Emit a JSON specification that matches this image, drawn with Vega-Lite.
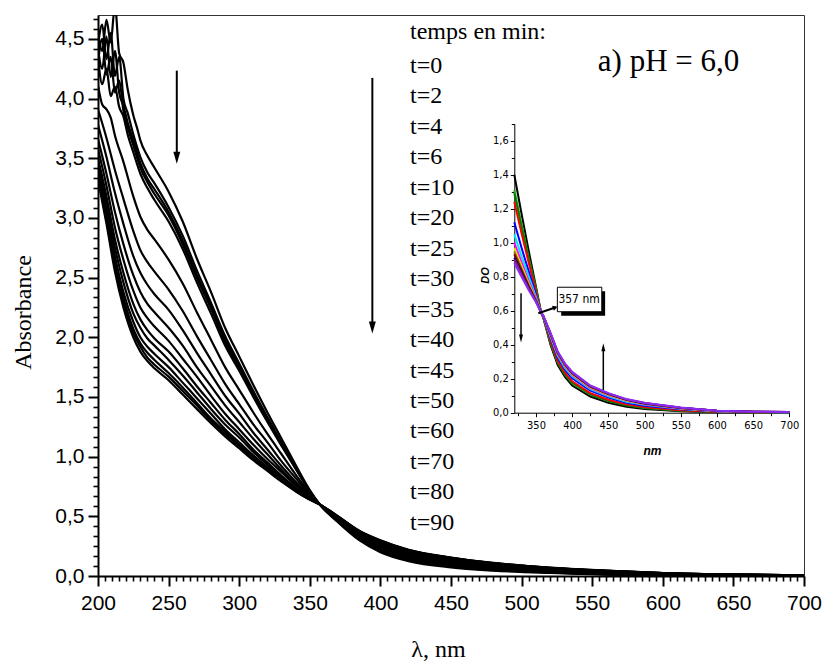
{
"$schema":"https://vega.github.io/schema/vega-lite/v6.json",
"width":706,"height":561,
"autosize":{"type":"none"},
"padding":{"left":98,"top":15,"right":20,"bottom":88},
"background":"white",
"config":{"view":{"stroke":"#333","strokeWidth":1},"font":"Liberation Sans"},
"datasets":{
"main":[
{"t":0,"x":200,"y":4.55},{"t":0,"x":203,"y":4.40},{"t":0,"x":206,"y":4.66},{"t":0,"x":209,"y":4.47},{"t":0,"x":212,"y":4.78},{"t":0,"x":215,"y":4.38},{"t":0,"x":218,"y":4.30},{"t":0,"x":221,"y":4.08},{"t":0,"x":225,"y":3.86},{"t":0,"x":228,"y":3.74},{"t":0,"x":230,"y":3.65},{"t":0,"x":235,"y":3.52},{"t":0,"x":240,"y":3.42},{"t":0,"x":250,"y":3.22},{"t":0,"x":260,"y":2.97},{"t":0,"x":270,"y":2.66},{"t":0,"x":280,"y":2.38},{"t":0,"x":290,"y":2.08},{"t":0,"x":300,"y":1.84},{"t":0,"x":310,"y":1.6},{"t":0,"x":320,"y":1.37},{"t":0,"x":330,"y":1.15},{"t":0,"x":340,"y":0.93},{"t":0,"x":350,"y":0.72},{"t":0,"x":357,"y":0.6},{"t":0,"x":370,"y":0.45},{"t":0,"x":385,"y":0.3},{"t":0,"x":400,"y":0.2},{"t":0,"x":420,"y":0.125},{"t":0,"x":450,"y":0.072},{"t":0,"x":480,"y":0.045},{"t":0,"x":520,"y":0.025},{"t":0,"x":560,"y":0.012},{"t":0,"x":600,"y":0.006},{"t":0,"x":650,"y":0.003},{"t":0,"x":700,"y":0.002},
{"t":2,"x":200,"y":4.45},{"t":2,"x":203,"y":4.62},{"t":2,"x":206,"y":4.33},{"t":2,"x":209,"y":4.55},{"t":2,"x":212,"y":4.19},{"t":2,"x":215,"y":4.35},{"t":2,"x":218,"y":4.0},{"t":2,"x":221,"y":3.88},{"t":2,"x":225,"y":3.7},{"t":2,"x":230,"y":3.51},{"t":2,"x":235,"y":3.38},{"t":2,"x":240,"y":3.29},{"t":2,"x":250,"y":3.09},{"t":2,"x":260,"y":2.85},{"t":2,"x":270,"y":2.56},{"t":2,"x":280,"y":2.29},{"t":2,"x":290,"y":2.01},{"t":2,"x":300,"y":1.78},{"t":2,"x":310,"y":1.55},{"t":2,"x":320,"y":1.33},{"t":2,"x":330,"y":1.12},{"t":2,"x":340,"y":0.91},{"t":2,"x":350,"y":0.71},{"t":2,"x":357,"y":0.6},{"t":2,"x":370,"y":0.455},{"t":2,"x":385,"y":0.308},{"t":2,"x":400,"y":0.207},{"t":2,"x":420,"y":0.131},{"t":2,"x":450,"y":0.079},{"t":2,"x":480,"y":0.05},{"t":2,"x":520,"y":0.029},{"t":2,"x":560,"y":0.015},{"t":2,"x":600,"y":0.008},{"t":2,"x":650,"y":0.004},{"t":2,"x":700,"y":0.002},
{"t":4,"x":200,"y":4.42},{"t":4,"x":203,"y":4.25},{"t":4,"x":206,"y":4.52},{"t":4,"x":209,"y":4.18},{"t":4,"x":212,"y":4.4},{"t":4,"x":215,"y":4.05},{"t":4,"x":218,"y":3.94},{"t":4,"x":221,"y":3.8},{"t":4,"x":225,"y":3.65},{"t":4,"x":230,"y":3.46},{"t":4,"x":235,"y":3.33},{"t":4,"x":240,"y":3.24},{"t":4,"x":250,"y":3.05},{"t":4,"x":260,"y":2.81},{"t":4,"x":270,"y":2.52},{"t":4,"x":280,"y":2.26},{"t":4,"x":290,"y":1.98},{"t":4,"x":300,"y":1.76},{"t":4,"x":310,"y":1.53},{"t":4,"x":320,"y":1.32},{"t":4,"x":330,"y":1.11},{"t":4,"x":340,"y":0.91},{"t":4,"x":350,"y":0.71},{"t":4,"x":357,"y":0.6},{"t":4,"x":370,"y":0.458},{"t":4,"x":385,"y":0.313},{"t":4,"x":400,"y":0.212},{"t":4,"x":420,"y":0.136},{"t":4,"x":450,"y":0.083},{"t":4,"x":480,"y":0.052},{"t":4,"x":520,"y":0.03},{"t":4,"x":560,"y":0.016},{"t":4,"x":600,"y":0.008},{"t":4,"x":650,"y":0.004},{"t":4,"x":700,"y":0.002},
{"t":6,"x":200,"y":4.3},{"t":6,"x":203,"y":4.5},{"t":6,"x":206,"y":4.2},{"t":6,"x":209,"y":4.35},{"t":6,"x":212,"y":4.05},{"t":6,"x":215,"y":4.15},{"t":6,"x":218,"y":3.9},{"t":6,"x":221,"y":3.76},{"t":6,"x":225,"y":3.61},{"t":6,"x":230,"y":3.42},{"t":6,"x":235,"y":3.3},{"t":6,"x":240,"y":3.2},{"t":6,"x":250,"y":3.02},{"t":6,"x":260,"y":2.78},{"t":6,"x":270,"y":2.5},{"t":6,"x":280,"y":2.24},{"t":6,"x":290,"y":1.96},{"t":6,"x":300,"y":1.74},{"t":6,"x":310,"y":1.52},{"t":6,"x":320,"y":1.31},{"t":6,"x":330,"y":1.1},{"t":6,"x":340,"y":0.9},{"t":6,"x":350,"y":0.71},{"t":6,"x":357,"y":0.6},{"t":6,"x":370,"y":0.461},{"t":6,"x":385,"y":0.318},{"t":6,"x":400,"y":0.217},{"t":6,"x":420,"y":0.141},{"t":6,"x":450,"y":0.087},{"t":6,"x":480,"y":0.055},{"t":6,"x":520,"y":0.031},{"t":6,"x":560,"y":0.016},{"t":6,"x":600,"y":0.008},{"t":6,"x":650,"y":0.004},{"t":6,"x":700,"y":0.003},
{"t":10,"x":200,"y":4.35},{"t":10,"x":203,"y":4.12},{"t":10,"x":206,"y":4.25},{"t":10,"x":209,"y":4.02},{"t":10,"x":212,"y":4.1},{"t":10,"x":215,"y":3.93},{"t":10,"x":218,"y":3.85},{"t":10,"x":221,"y":3.7},{"t":10,"x":225,"y":3.55},{"t":10,"x":230,"y":3.37},{"t":10,"x":235,"y":3.25},{"t":10,"x":240,"y":3.15},{"t":10,"x":250,"y":2.97},{"t":10,"x":260,"y":2.74},{"t":10,"x":270,"y":2.46},{"t":10,"x":280,"y":2.2},{"t":10,"x":290,"y":1.93},{"t":10,"x":300,"y":1.72},{"t":10,"x":310,"y":1.5},{"t":10,"x":320,"y":1.29},{"t":10,"x":330,"y":1.09},{"t":10,"x":340,"y":0.9},{"t":10,"x":350,"y":0.71},{"t":10,"x":357,"y":0.6},{"t":10,"x":370,"y":0.464},{"t":10,"x":385,"y":0.323},{"t":10,"x":400,"y":0.222},{"t":10,"x":420,"y":0.146},{"t":10,"x":450,"y":0.091},{"t":10,"x":480,"y":0.058},{"t":10,"x":520,"y":0.033},{"t":10,"x":560,"y":0.018},{"t":10,"x":600,"y":0.009},{"t":10,"x":650,"y":0.004},{"t":10,"x":700,"y":0.003},
{"t":20,"x":200,"y":4.11},{"t":20,"x":203,"y":3.95},{"t":20,"x":206,"y":3.91},{"t":20,"x":209,"y":3.84},{"t":20,"x":212,"y":3.69},{"t":20,"x":218,"y":3.47},{"t":20,"x":225,"y":3.18},{"t":20,"x":230,"y":3.01},{"t":20,"x":235,"y":2.9},{"t":20,"x":240,"y":2.82},{"t":20,"x":250,"y":2.65},{"t":20,"x":260,"y":2.45},{"t":20,"x":270,"y":2.21},{"t":20,"x":280,"y":1.98},{"t":20,"x":290,"y":1.75},{"t":20,"x":300,"y":1.56},{"t":20,"x":310,"y":1.37},{"t":20,"x":320,"y":1.19},{"t":20,"x":330,"y":1.02},{"t":20,"x":340,"y":0.85},{"t":20,"x":350,"y":0.69},{"t":20,"x":357,"y":0.6},{"t":20,"x":370,"y":0.472},{"t":20,"x":385,"y":0.334},{"t":20,"x":400,"y":0.237},{"t":20,"x":420,"y":0.16},{"t":20,"x":450,"y":0.103},{"t":20,"x":480,"y":0.068},{"t":20,"x":520,"y":0.041},{"t":20,"x":560,"y":0.024},{"t":20,"x":600,"y":0.013},{"t":20,"x":650,"y":0.006},{"t":20,"x":700,"y":0.003},
{"t":25,"x":200,"y":3.91},{"t":25,"x":206,"y":3.67},{"t":25,"x":212,"y":3.4},{"t":25,"x":218,"y":3.16},{"t":25,"x":225,"y":2.89},{"t":25,"x":230,"y":2.73},{"t":25,"x":235,"y":2.63},{"t":25,"x":240,"y":2.55},{"t":25,"x":250,"y":2.4},{"t":25,"x":260,"y":2.22},{"t":25,"x":270,"y":2.01},{"t":25,"x":280,"y":1.81},{"t":25,"x":290,"y":1.61},{"t":25,"x":300,"y":1.44},{"t":25,"x":310,"y":1.27},{"t":25,"x":320,"y":1.12},{"t":25,"x":330,"y":0.96},{"t":25,"x":340,"y":0.82},{"t":25,"x":350,"y":0.68},{"t":25,"x":357,"y":0.6},{"t":25,"x":370,"y":0.478},{"t":25,"x":385,"y":0.343},{"t":25,"x":400,"y":0.25},{"t":25,"x":420,"y":0.173},{"t":25,"x":450,"y":0.114},{"t":25,"x":480,"y":0.079},{"t":25,"x":520,"y":0.048},{"t":25,"x":560,"y":0.029},{"t":25,"x":600,"y":0.016},{"t":25,"x":650,"y":0.008},{"t":25,"x":700,"y":0.004},
{"t":30,"x":200,"y":3.78},{"t":30,"x":206,"y":3.51},{"t":30,"x":212,"y":3.21},{"t":30,"x":218,"y":2.95},{"t":30,"x":225,"y":2.68},{"t":30,"x":230,"y":2.54},{"t":30,"x":235,"y":2.44},{"t":30,"x":240,"y":2.36},{"t":30,"x":250,"y":2.23},{"t":30,"x":260,"y":2.06},{"t":30,"x":270,"y":1.87},{"t":30,"x":280,"y":1.69},{"t":30,"x":290,"y":1.51},{"t":30,"x":300,"y":1.36},{"t":30,"x":310,"y":1.2},{"t":30,"x":320,"y":1.06},{"t":30,"x":330,"y":0.92},{"t":30,"x":340,"y":0.79},{"t":30,"x":350,"y":0.67},{"t":30,"x":357,"y":0.6},{"t":30,"x":370,"y":0.482},{"t":30,"x":385,"y":0.35},{"t":30,"x":400,"y":0.259},{"t":30,"x":420,"y":0.183},{"t":30,"x":450,"y":0.124},{"t":30,"x":480,"y":0.086},{"t":30,"x":520,"y":0.053},{"t":30,"x":560,"y":0.033},{"t":30,"x":600,"y":0.018},{"t":30,"x":650,"y":0.009},{"t":30,"x":700,"y":0.005},
{"t":35,"x":200,"y":3.66},{"t":35,"x":206,"y":3.37},{"t":35,"x":212,"y":3.05},{"t":35,"x":218,"y":2.78},{"t":35,"x":225,"y":2.52},{"t":35,"x":230,"y":2.38},{"t":35,"x":235,"y":2.28},{"t":35,"x":240,"y":2.21},{"t":35,"x":250,"y":2.08},{"t":35,"x":260,"y":1.93},{"t":35,"x":270,"y":1.75},{"t":35,"x":280,"y":1.59},{"t":35,"x":290,"y":1.43},{"t":35,"x":300,"y":1.29},{"t":35,"x":310,"y":1.15},{"t":35,"x":320,"y":1.02},{"t":35,"x":330,"y":0.89},{"t":35,"x":340,"y":0.77},{"t":35,"x":350,"y":0.66},{"t":35,"x":357,"y":0.6},{"t":35,"x":370,"y":0.486},{"t":35,"x":385,"y":0.357},{"t":35,"x":400,"y":0.268},{"t":35,"x":420,"y":0.192},{"t":35,"x":450,"y":0.131},{"t":35,"x":480,"y":0.092},{"t":35,"x":520,"y":0.057},{"t":35,"x":560,"y":0.036},{"t":35,"x":600,"y":0.02},{"t":35,"x":650,"y":0.009},{"t":35,"x":700,"y":0.005},
{"t":40,"x":200,"y":3.58},{"t":40,"x":206,"y":3.27},{"t":40,"x":212,"y":2.92},{"t":40,"x":218,"y":2.65},{"t":40,"x":225,"y":2.39},{"t":40,"x":230,"y":2.25},{"t":40,"x":235,"y":2.16},{"t":40,"x":240,"y":2.09},{"t":40,"x":250,"y":1.97},{"t":40,"x":260,"y":1.82},{"t":40,"x":270,"y":1.67},{"t":40,"x":280,"y":1.51},{"t":40,"x":290,"y":1.36},{"t":40,"x":300,"y":1.23},{"t":40,"x":310,"y":1.1},{"t":40,"x":320,"y":0.98},{"t":40,"x":330,"y":0.87},{"t":40,"x":340,"y":0.76},{"t":40,"x":350,"y":0.66},{"t":40,"x":357,"y":0.6},{"t":40,"x":370,"y":0.489},{"t":40,"x":385,"y":0.362},{"t":40,"x":400,"y":0.275},{"t":40,"x":420,"y":0.199},{"t":40,"x":450,"y":0.137},{"t":40,"x":480,"y":0.096},{"t":40,"x":520,"y":0.061},{"t":40,"x":560,"y":0.038},{"t":40,"x":600,"y":0.021},{"t":40,"x":650,"y":0.01},{"t":40,"x":700,"y":0.005},
{"t":45,"x":200,"y":3.5},{"t":45,"x":206,"y":3.18},{"t":45,"x":212,"y":2.82},{"t":45,"x":218,"y":2.54},{"t":45,"x":225,"y":2.28},{"t":45,"x":230,"y":2.15},{"t":45,"x":235,"y":2.06},{"t":45,"x":240,"y":1.99},{"t":45,"x":250,"y":1.88},{"t":45,"x":260,"y":1.74},{"t":45,"x":270,"y":1.59},{"t":45,"x":280,"y":1.45},{"t":45,"x":290,"y":1.31},{"t":45,"x":300,"y":1.19},{"t":45,"x":310,"y":1.06},{"t":45,"x":320,"y":0.95},{"t":45,"x":330,"y":0.84},{"t":45,"x":340,"y":0.74},{"t":45,"x":350,"y":0.65},{"t":45,"x":357,"y":0.6},{"t":45,"x":370,"y":0.491},{"t":45,"x":385,"y":0.367},{"t":45,"x":400,"y":0.281},{"t":45,"x":420,"y":0.205},{"t":45,"x":450,"y":0.142},{"t":45,"x":480,"y":0.1},{"t":45,"x":520,"y":0.063},{"t":45,"x":560,"y":0.04},{"t":45,"x":600,"y":0.022},{"t":45,"x":650,"y":0.011},{"t":45,"x":700,"y":0.005},
{"t":50,"x":200,"y":3.46},{"t":50,"x":206,"y":3.12},{"t":50,"x":212,"y":2.75},{"t":50,"x":218,"y":2.46},{"t":50,"x":225,"y":2.2},{"t":50,"x":230,"y":2.08},{"t":50,"x":235,"y":1.99},{"t":50,"x":240,"y":1.93},{"t":50,"x":250,"y":1.81},{"t":50,"x":260,"y":1.68},{"t":50,"x":270,"y":1.54},{"t":50,"x":280,"y":1.4},{"t":50,"x":290,"y":1.27},{"t":50,"x":300,"y":1.16},{"t":50,"x":310,"y":1.04},{"t":50,"x":320,"y":0.93},{"t":50,"x":330,"y":0.83},{"t":50,"x":340,"y":0.73},{"t":50,"x":350,"y":0.65},{"t":50,"x":357,"y":0.6},{"t":50,"x":370,"y":0.493},{"t":50,"x":385,"y":0.37},{"t":50,"x":400,"y":0.285},{"t":50,"x":420,"y":0.209},{"t":50,"x":450,"y":0.146},{"t":50,"x":480,"y":0.103},{"t":50,"x":520,"y":0.065},{"t":50,"x":560,"y":0.041},{"t":50,"x":600,"y":0.023},{"t":50,"x":650,"y":0.011},{"t":50,"x":700,"y":0.006},
{"t":60,"x":200,"y":3.41},{"t":60,"x":206,"y":3.06},{"t":60,"x":212,"y":2.68},{"t":60,"x":218,"y":2.38},{"t":60,"x":225,"y":2.13},{"t":60,"x":230,"y":2.0},{"t":60,"x":235,"y":1.92},{"t":60,"x":240,"y":1.86},{"t":60,"x":250,"y":1.75},{"t":60,"x":260,"y":1.62},{"t":60,"x":270,"y":1.49},{"t":60,"x":280,"y":1.36},{"t":60,"x":290,"y":1.23},{"t":60,"x":300,"y":1.12},{"t":60,"x":310,"y":1.01},{"t":60,"x":320,"y":0.91},{"t":60,"x":330,"y":0.82},{"t":60,"x":340,"y":0.73},{"t":60,"x":350,"y":0.65},{"t":60,"x":357,"y":0.6},{"t":60,"x":370,"y":0.495},{"t":60,"x":385,"y":0.373},{"t":60,"x":400,"y":0.29},{"t":60,"x":420,"y":0.213},{"t":60,"x":450,"y":0.149},{"t":60,"x":480,"y":0.105},{"t":60,"x":520,"y":0.067},{"t":60,"x":560,"y":0.043},{"t":60,"x":600,"y":0.024},{"t":60,"x":650,"y":0.011},{"t":60,"x":700,"y":0.006},
{"t":70,"x":200,"y":3.37},{"t":70,"x":206,"y":3.01},{"t":70,"x":212,"y":2.62},{"t":70,"x":218,"y":2.33},{"t":70,"x":225,"y":2.07},{"t":70,"x":230,"y":1.95},{"t":70,"x":235,"y":1.87},{"t":70,"x":240,"y":1.81},{"t":70,"x":250,"y":1.7},{"t":70,"x":260,"y":1.58},{"t":70,"x":270,"y":1.45},{"t":70,"x":280,"y":1.32},{"t":70,"x":290,"y":1.21},{"t":70,"x":300,"y":1.1},{"t":70,"x":310,"y":1.0},{"t":70,"x":320,"y":0.9},{"t":70,"x":330,"y":0.8},{"t":70,"x":340,"y":0.72},{"t":70,"x":350,"y":0.64},{"t":70,"x":357,"y":0.6},{"t":70,"x":370,"y":0.497},{"t":70,"x":385,"y":0.376},{"t":70,"x":400,"y":0.294},{"t":70,"x":420,"y":0.216},{"t":70,"x":450,"y":0.152},{"t":70,"x":480,"y":0.107},{"t":70,"x":520,"y":0.068},{"t":70,"x":560,"y":0.044},{"t":70,"x":600,"y":0.024},{"t":70,"x":650,"y":0.012},{"t":70,"x":700,"y":0.006},
{"t":80,"x":200,"y":3.35},{"t":80,"x":206,"y":2.98},{"t":80,"x":212,"y":2.59},{"t":80,"x":218,"y":2.29},{"t":80,"x":225,"y":2.04},{"t":80,"x":230,"y":1.92},{"t":80,"x":235,"y":1.83},{"t":80,"x":240,"y":1.77},{"t":80,"x":250,"y":1.67},{"t":80,"x":260,"y":1.55},{"t":80,"x":270,"y":1.43},{"t":80,"x":280,"y":1.3},{"t":80,"x":290,"y":1.19},{"t":80,"x":300,"y":1.09},{"t":80,"x":310,"y":0.98},{"t":80,"x":320,"y":0.89},{"t":80,"x":330,"y":0.8},{"t":80,"x":340,"y":0.71},{"t":80,"x":350,"y":0.64},{"t":80,"x":357,"y":0.6},{"t":80,"x":370,"y":0.499},{"t":80,"x":385,"y":0.378},{"t":80,"x":400,"y":0.297},{"t":80,"x":420,"y":0.218},{"t":80,"x":450,"y":0.153},{"t":80,"x":480,"y":0.109},{"t":80,"x":520,"y":0.069},{"t":80,"x":560,"y":0.044},{"t":80,"x":600,"y":0.025},{"t":80,"x":650,"y":0.012},{"t":80,"x":700,"y":0.006},
{"t":90,"x":200,"y":3.32},{"t":90,"x":206,"y":2.95},{"t":90,"x":212,"y":2.55},{"t":90,"x":218,"y":2.25},{"t":90,"x":225,"y":2.0},{"t":90,"x":230,"y":1.88},{"t":90,"x":235,"y":1.8},{"t":90,"x":240,"y":1.74},{"t":90,"x":250,"y":1.64},{"t":90,"x":260,"y":1.52},{"t":90,"x":270,"y":1.4},{"t":90,"x":280,"y":1.28},{"t":90,"x":290,"y":1.17},{"t":90,"x":300,"y":1.07},{"t":90,"x":310,"y":0.97},{"t":90,"x":320,"y":0.88},{"t":90,"x":330,"y":0.79},{"t":90,"x":340,"y":0.71},{"t":90,"x":350,"y":0.64},{"t":90,"x":357,"y":0.6},{"t":90,"x":370,"y":0.5},{"t":90,"x":385,"y":0.38},{"t":90,"x":400,"y":0.3},{"t":90,"x":420,"y":0.22},{"t":90,"x":450,"y":0.155},{"t":90,"x":480,"y":0.11},{"t":90,"x":520,"y":0.07},{"t":90,"x":560,"y":0.045},{"t":90,"x":600,"y":0.025},{"t":90,"x":650,"y":0.012},{"t":90,"x":700,"y":0.006}
],
"inset":[
{"c":"black","x":320,"y":1.4},{"c":"black","x":330,"y":1.17},{"c":"black","x":340,"y":0.95},{"c":"black","x":350,"y":0.74},{"c":"black","x":357,"y":0.59},{"c":"black","x":360,"y":0.56},{"c":"black","x":370,"y":0.4},{"c":"black","x":380,"y":0.28},{"c":"black","x":390,"y":0.21},{"c":"black","x":400,"y":0.16},{"c":"black","x":425,"y":0.095},{"c":"black","x":450,"y":0.058},{"c":"black","x":475,"y":0.035},{"c":"black","x":500,"y":0.022},{"c":"black","x":550,"y":0.008},{"c":"black","x":600,"y":0.003},{"c":"black","x":650,"y":0.002},{"c":"black","x":700,"y":0.002},
{"c":"green","x":320,"y":1.31},{"c":"green","x":330,"y":1.11},{"c":"green","x":340,"y":0.91},{"c":"green","x":350,"y":0.73},{"c":"green","x":357,"y":0.59},{"c":"green","x":360,"y":0.562},{"c":"green","x":370,"y":0.412},{"c":"green","x":380,"y":0.294},{"c":"green","x":390,"y":0.224},{"c":"green","x":400,"y":0.174},{"c":"green","x":425,"y":0.106},{"c":"green","x":450,"y":0.068},{"c":"green","x":475,"y":0.043},{"c":"green","x":500,"y":0.028},{"c":"green","x":550,"y":0.012},{"c":"green","x":600,"y":0.005},{"c":"green","x":650,"y":0.003},{"c":"green","x":700,"y":0.002},
{"c":"darkgreen","x":320,"y":1.29},{"c":"darkgreen","x":330,"y":1.09},{"c":"darkgreen","x":340,"y":0.9},{"c":"darkgreen","x":350,"y":0.72},{"c":"darkgreen","x":357,"y":0.59},{"c":"darkgreen","x":360,"y":0.562},{"c":"darkgreen","x":370,"y":0.415},{"c":"darkgreen","x":380,"y":0.297},{"c":"darkgreen","x":390,"y":0.227},{"c":"darkgreen","x":400,"y":0.177},{"c":"darkgreen","x":425,"y":0.109},{"c":"darkgreen","x":450,"y":0.07},{"c":"darkgreen","x":475,"y":0.044},{"c":"darkgreen","x":500,"y":0.03},{"c":"darkgreen","x":550,"y":0.013},{"c":"darkgreen","x":600,"y":0.005},{"c":"darkgreen","x":650,"y":0.003},{"c":"darkgreen","x":700,"y":0.002},
{"c":"red","x":320,"y":1.24},{"c":"red","x":330,"y":1.055},{"c":"red","x":340,"y":0.88},{"c":"red","x":350,"y":0.71},{"c":"red","x":357,"y":0.59},{"c":"red","x":360,"y":0.563},{"c":"red","x":370,"y":0.422},{"c":"red","x":380,"y":0.305},{"c":"red","x":390,"y":0.235},{"c":"red","x":400,"y":0.185},{"c":"red","x":425,"y":0.115},{"c":"red","x":450,"y":0.076},{"c":"red","x":475,"y":0.049},{"c":"red","x":500,"y":0.033},{"c":"red","x":550,"y":0.015},{"c":"red","x":600,"y":0.006},{"c":"red","x":650,"y":0.003},{"c":"red","x":700,"y":0.003},
{"c":"blue","x":320,"y":1.12},{"c":"blue","x":330,"y":0.97},{"c":"blue","x":340,"y":0.83},{"c":"blue","x":350,"y":0.69},{"c":"blue","x":357,"y":0.59},{"c":"blue","x":360,"y":0.565},{"c":"blue","x":370,"y":0.438},{"c":"blue","x":380,"y":0.323},{"c":"blue","x":390,"y":0.253},{"c":"blue","x":400,"y":0.203},{"c":"blue","x":425,"y":0.13},{"c":"blue","x":450,"y":0.089},{"c":"blue","x":475,"y":0.059},{"c":"blue","x":500,"y":0.041},{"c":"blue","x":550,"y":0.02},{"c":"blue","x":600,"y":0.008},{"c":"blue","x":650,"y":0.004},{"c":"blue","x":700,"y":0.003},
{"c":"cyan","x":320,"y":1.05},{"c":"cyan","x":330,"y":0.92},{"c":"cyan","x":340,"y":0.8},{"c":"cyan","x":350,"y":0.68},{"c":"cyan","x":357,"y":0.59},{"c":"cyan","x":360,"y":0.567},{"c":"cyan","x":370,"y":0.447},{"c":"cyan","x":380,"y":0.334},{"c":"cyan","x":390,"y":0.264},{"c":"cyan","x":400,"y":0.214},{"c":"cyan","x":425,"y":0.139},{"c":"cyan","x":450,"y":0.096},{"c":"cyan","x":475,"y":0.065},{"c":"cyan","x":500,"y":0.046},{"c":"cyan","x":550,"y":0.023},{"c":"cyan","x":600,"y":0.009},{"c":"cyan","x":650,"y":0.005},{"c":"cyan","x":700,"y":0.003},
{"c":"magenta","x":320,"y":1.0},{"c":"magenta","x":330,"y":0.885},{"c":"magenta","x":340,"y":0.773},{"c":"magenta","x":350,"y":0.671},{"c":"magenta","x":357,"y":0.59},{"c":"magenta","x":360,"y":0.568},{"c":"magenta","x":370,"y":0.454},{"c":"magenta","x":380,"y":0.342},{"c":"magenta","x":390,"y":0.272},{"c":"magenta","x":400,"y":0.222},{"c":"magenta","x":425,"y":0.145},{"c":"magenta","x":450,"y":0.102},{"c":"magenta","x":475,"y":0.07},{"c":"magenta","x":500,"y":0.05},{"c":"magenta","x":550,"y":0.025},{"c":"magenta","x":600,"y":0.01},{"c":"magenta","x":650,"y":0.005},{"c":"magenta","x":700,"y":0.004},
{"c":"yellow","x":320,"y":0.968},{"c":"yellow","x":330,"y":0.863},{"c":"yellow","x":340,"y":0.759},{"c":"yellow","x":350,"y":0.665},{"c":"yellow","x":357,"y":0.59},{"c":"yellow","x":360,"y":0.568},{"c":"yellow","x":370,"y":0.458},{"c":"yellow","x":380,"y":0.346},{"c":"yellow","x":390,"y":0.276},{"c":"yellow","x":400,"y":0.226},{"c":"yellow","x":425,"y":0.149},{"c":"yellow","x":450,"y":0.105},{"c":"yellow","x":475,"y":0.072},{"c":"yellow","x":500,"y":0.052},{"c":"yellow","x":550,"y":0.026},{"c":"yellow","x":600,"y":0.01},{"c":"yellow","x":650,"y":0.005},{"c":"yellow","x":700,"y":0.004},
{"c":"olive","x":320,"y":0.948},{"c":"olive","x":330,"y":0.848},{"c":"olive","x":340,"y":0.75},{"c":"olive","x":350,"y":0.662},{"c":"olive","x":357,"y":0.59},{"c":"olive","x":360,"y":0.569},{"c":"olive","x":370,"y":0.461},{"c":"olive","x":380,"y":0.35},{"c":"olive","x":390,"y":0.28},{"c":"olive","x":400,"y":0.23},{"c":"olive","x":425,"y":0.152},{"c":"olive","x":450,"y":0.108},{"c":"olive","x":475,"y":0.074},{"c":"olive","x":500,"y":0.053},{"c":"olive","x":550,"y":0.027},{"c":"olive","x":600,"y":0.011},{"c":"olive","x":650,"y":0.005},{"c":"olive","x":700,"y":0.004},
{"c":"wine","x":320,"y":0.932},{"c":"wine","x":330,"y":0.837},{"c":"wine","x":340,"y":0.743},{"c":"wine","x":350,"y":0.659},{"c":"wine","x":357,"y":0.59},{"c":"wine","x":360,"y":0.569},{"c":"wine","x":370,"y":0.463},{"c":"wine","x":380,"y":0.352},{"c":"wine","x":390,"y":0.282},{"c":"wine","x":400,"y":0.232},{"c":"wine","x":425,"y":0.154},{"c":"wine","x":450,"y":0.109},{"c":"wine","x":475,"y":0.076},{"c":"wine","x":500,"y":0.054},{"c":"wine","x":550,"y":0.028},{"c":"wine","x":600,"y":0.011},{"c":"wine","x":650,"y":0.006},{"c":"wine","x":700,"y":0.004},
{"c":"navy","x":320,"y":0.911},{"c":"navy","x":330,"y":0.822},{"c":"navy","x":340,"y":0.734},{"c":"navy","x":350,"y":0.655},{"c":"navy","x":357,"y":0.59},{"c":"navy","x":360,"y":0.569},{"c":"navy","x":370,"y":0.466},{"c":"navy","x":380,"y":0.355},{"c":"navy","x":390,"y":0.285},{"c":"navy","x":400,"y":0.235},{"c":"navy","x":425,"y":0.156},{"c":"navy","x":450,"y":0.112},{"c":"navy","x":475,"y":0.077},{"c":"navy","x":500,"y":0.056},{"c":"navy","x":550,"y":0.029},{"c":"navy","x":600,"y":0.011},{"c":"navy","x":650,"y":0.006},{"c":"navy","x":700,"y":0.004},
{"c":"purple","x":320,"y":0.901},{"c":"purple","x":330,"y":0.815},{"c":"purple","x":340,"y":0.729},{"c":"purple","x":350,"y":0.654},{"c":"purple","x":357,"y":0.59},{"c":"purple","x":360,"y":0.57},{"c":"purple","x":370,"y":0.467},{"c":"purple","x":380,"y":0.357},{"c":"purple","x":390,"y":0.287},{"c":"purple","x":400,"y":0.237},{"c":"purple","x":425,"y":0.157},{"c":"purple","x":450,"y":0.113},{"c":"purple","x":475,"y":0.078},{"c":"purple","x":500,"y":0.057},{"c":"purple","x":550,"y":0.029},{"c":"purple","x":600,"y":0.012},{"c":"purple","x":650,"y":0.006},{"c":"purple","x":700,"y":0.004},
{"c":"violet","x":320,"y":0.88},{"c":"violet","x":330,"y":0.8},{"c":"violet","x":340,"y":0.72},{"c":"violet","x":350,"y":0.65},{"c":"violet","x":357,"y":0.59},{"c":"violet","x":360,"y":0.57},{"c":"violet","x":370,"y":0.47},{"c":"violet","x":380,"y":0.36},{"c":"violet","x":390,"y":0.29},{"c":"violet","x":400,"y":0.24},{"c":"violet","x":425,"y":0.16},{"c":"violet","x":450,"y":0.115},{"c":"violet","x":475,"y":0.08},{"c":"violet","x":500,"y":0.058},{"c":"violet","x":550,"y":0.03},{"c":"violet","x":600,"y":0.012},{"c":"violet","x":650,"y":0.006},{"c":"violet","x":700,"y":0.004}
],
"legend":[
{"label":"temps en min:","x":421,"y":4.502},
{"label":"t=0","x":421,"y":4.218},{"label":"t=2","x":421,"y":3.962},{"label":"t=4","x":421,"y":3.707},{"label":"t=6","x":421,"y":3.451},{"label":"t=10","x":421,"y":3.196},{"label":"t=20","x":421,"y":2.94},{"label":"t=25","x":421,"y":2.685},{"label":"t=30","x":421,"y":2.429},{"label":"t=35","x":421,"y":2.174},{"label":"t=40","x":421,"y":1.918},{"label":"t=45","x":421,"y":1.663},{"label":"t=50","x":421,"y":1.407},{"label":"t=60","x":421,"y":1.152},{"label":"t=70","x":421,"y":0.896},{"label":"t=80","x":421,"y":0.641},{"label":"t=90","x":421,"y":0.386}
]
},
"layer":[
{"data":{"name":"main"},
 "mark":{"type":"line","color":"#000","strokeWidth":2.2,"clip":true,"interpolate":"monotone"},
 "encoding":{
  "x":{"field":"x","type":"quantitative","scale":{"domain":[200,700],"nice":false,"zero":false},
   "axis":{"orient":"bottom","values":[200,250,300,350,400,450,500,550,600,650,700],"grid":false,
    "title":"λ, nm","titleFont":"Liberation Serif","titleFontSize":24,"titleFontWeight":"normal","titleColor":"#000","titleX":340,"titleY":73,"titleBaseline":"middle","titleAlign":"center",
    "labelFont":"Liberation Sans","labelFontSize":21,"labelColor":"#000","labelPadding":6,"labelFlush":false,"labelOverlap":false,
    "tickSize":10,"tickWidth":2,"tickColor":"#000","domainColor":"#000","domainWidth":2}},
  "y":{"field":"y","type":"quantitative","scale":{"domain":[0,4.7],"nice":false,"zero":false},
   "axis":{"orient":"left","values":[0,0.5,1,1.5,2,2.5,3,3.5,4,4.5],"grid":false,
    "labelExpr":"replace(format(datum.value,'.1f'),'.',',')",
    "title":"Absorbance","titleFont":"Liberation Serif","titleFontSize":24,"titleFontWeight":"normal","titleColor":"#000","titleX":-75,"titleY":297,"titleBaseline":"middle","titleAlign":"center","titleAngle":-90,
    "labelFont":"Liberation Sans","labelFontSize":21,"labelColor":"#000","labelPadding":4,"labelFlush":false,"labelOverlap":false,
    "tickSize":10,"tickWidth":2,"tickColor":"#000","domainColor":"#000","domainWidth":2}},
  "detail":{"field":"t","type":"nominal"}
 }},
{"data":{"name":"legend"},
 "mark":{"type":"text","font":"Liberation Serif","fontSize":24,"align":"left","baseline":"alphabetic","color":"#000"},
 "encoding":{
  "x":{"field":"x","type":"quantitative","scale":{"domain":[200,700],"nice":false,"zero":false},
   "axis":{"orient":"bottom","values":[205,210,215,220,225,230,235,240,245,255,260,265,270,275,280,285,290,295,305,310,315,320,325,330,335,340,345,355,360,365,370,375,380,385,390,395,405,410,415,420,425,430,435,440,445,455,460,465,470,475,480,485,490,495,505,510,515,520,525,530,535,540,545,555,560,565,570,575,580,585,590,595,605,610,615,620,625,630,635,640,645,655,660,665,670,675,680,685,690,695],
    "labels":false,"domain":false,"grid":false,"title":null,"ticks":true,"tickSize":5,"tickWidth":1.6,"tickColor":"#000"}},
  "y":{"field":"y","type":"quantitative","scale":{"domain":[0,4.7],"nice":false,"zero":false},
   "axis":{"orient":"left","values":[0.0833,0.1667,0.25,0.3333,0.4167,0.5833,0.6667,0.75,0.8333,0.9167,1.0833,1.1667,1.25,1.3333,1.4167,1.5833,1.6667,1.75,1.8333,1.9167,2.0833,2.1667,2.25,2.3333,2.4167,2.5833,2.6667,2.75,2.8333,2.9167,3.0833,3.1667,3.25,3.3333,3.4167,3.5833,3.6667,3.75,3.8333,3.9167,4.0833,4.1667,4.25,4.3333,4.4167,4.5833,4.6667],
    "labels":false,"domain":false,"grid":false,"title":null,"ticks":true,"tickSize":5,"tickWidth":1.6,"tickColor":"#000"}},
  "text":{"field":"label","type":"nominal"}
 }},
{"data":{"values":[{"label":"a) pH = 6,0","x":554,"y":4.234}]},
 "mark":{"type":"text","font":"Liberation Serif","fontSize":31,"align":"left","baseline":"alphabetic","color":"#000"},
 "encoding":{
  "x":{"field":"x","type":"quantitative","scale":{"domain":[200,700],"nice":false,"zero":false},"axis":null},
  "y":{"field":"y","type":"quantitative","scale":{"domain":[0,4.7],"nice":false,"zero":false},"axis":null},
  "text":{"field":"label","type":"nominal"}
 }},
{"data":{"values":[{"x":255.8,"top":4.234,"head":3.504},{"x":394.3,"top":4.173,"head":2.081}]},
 "mark":{"type":"rule","color":"#000","strokeWidth":2},
 "encoding":{
  "x":{"field":"x","type":"quantitative","scale":{"domain":[200,700],"nice":false,"zero":false},"axis":null},
  "y":{"field":"top","type":"quantitative","scale":{"domain":[0,4.7],"nice":false,"zero":false},"axis":null},
  "y2":{"field":"head"}
 }},
{"data":{"values":[{"x":255.8,"head":3.504},{"x":394.3,"head":2.081}]},
 "mark":{"type":"point","shape":"M-0.58,-1L0.58,-1L0,1Z","size":144,"filled":true,"color":"#000","opacity":1,"strokeWidth":0},
 "encoding":{
  "x":{"field":"x","type":"quantitative","scale":{"domain":[200,700],"nice":false,"zero":false},"axis":null},
  "y":{"field":"head","type":"quantitative","scale":{"domain":[0,4.7],"nice":false,"zero":false},"axis":null}
 }},
{"data":{"name":"inset"},
 "mark":{"type":"line","strokeWidth":2},
 "encoding":{
  "x":{"field":"x","type":"quantitative","scale":{"domain":[320,700],"range":[416.3,691.3],"nice":false,"zero":false},
   "axis":{"orient":"bottom","offset":-163.3,"values":[350,400,450,500,550,600,650,700],"grid":false,
    "title":"nm","titleFont":"Liberation Sans","titleFontSize":12,"titleFontWeight":"bold","titleFontStyle":"italic","titleColor":"#000","titleX":554,"titleY":38,"titleBaseline":"middle","titleAlign":"center",
    "labelFont":"Liberation Sans Narrow, DejaVu Sans Condensed, Liberation Sans","labelFontSize":11,"labelColor":"#000","labelPadding":3,"labelFlush":false,"labelOverlap":false,
    "tickSize":4,"tickWidth":1,"tickColor":"#000","domainColor":"#000","domainWidth":1}},
  "y":{"field":"y","type":"quantitative","scale":{"domain":[0,1.7],"range":[397.7,108.7],"nice":false,"zero":false},
   "axis":{"orient":"left","offset":-416.3,"values":[0,0.2,0.4,0.6,0.8,1,1.2,1.4,1.6],"grid":false,
    "labelExpr":"replace(format(datum.value,'.1f'),'.',',')",
    "title":"DO","titleFont":"Liberation Sans","titleFontSize":11,"titleFontWeight":"bold","titleFontStyle":"italic","titleColor":"#000","titleX":-29,"titleY":260,"titleBaseline":"middle","titleAlign":"center","titleAngle":-90,
    "labelFont":"Liberation Sans Narrow, DejaVu Sans Condensed, Liberation Sans","labelFontSize":11,"labelColor":"#000","labelPadding":2,"labelFlush":false,"labelOverlap":false,
    "tickSize":4,"tickWidth":1,"tickColor":"#000","domainColor":"#000","domainWidth":1}},
  "color":{"field":"c","type":"nominal","legend":null,
   "scale":{"domain":["black","green","darkgreen","red","blue","cyan","magenta","yellow","olive","wine","navy","purple","violet"],
    "range":["#000000","#12b012","#007a00","#ff0000","#0000ff","#00e5ff","#ff00ff","#f0e000","#808000","#800000","#000080","#8a1a9a","#8b2cf0"]}}
 }},
{"data":{"values":[{"x1":384.8,"x2":445.5,"y1":0.714,"y2":0.57}]},
 "mark":{"type":"rect","color":"#000"},
 "encoding":{
  "x":{"field":"x1","type":"quantitative","scale":{"domain":[320,700],"range":[416.3,691.3],"nice":false,"zero":false},"axis":null},"x2":{"field":"x2"},
  "y":{"field":"y1","type":"quantitative","scale":{"domain":[0,1.7],"range":[397.7,108.7],"nice":false,"zero":false},"axis":null},"y2":{"field":"y2"}
 }},
{"data":{"values":[{"x1":379.5,"x2":440.9,"y1":0.738,"y2":0.594}]},
 "mark":{"type":"rect","fill":"#fff","stroke":"#000","strokeWidth":1},
 "encoding":{
  "x":{"field":"x1","type":"quantitative","scale":{"domain":[320,700],"range":[416.3,691.3],"nice":false,"zero":false},"axis":null},"x2":{"field":"x2"},
  "y":{"field":"y1","type":"quantitative","scale":{"domain":[0,1.7],"range":[397.7,108.7],"nice":false,"zero":false},"axis":null},"y2":{"field":"y2"}
 }},
{"data":{"values":[{"label":"357 nm","x":409.5,"y":0.666}]},
 "mark":{"type":"text","font":"Liberation Sans Narrow, DejaVu Sans Condensed, Liberation Sans","fontSize":12,"align":"center","baseline":"middle","color":"#000"},
 "encoding":{
  "x":{"field":"x","type":"quantitative","scale":{"domain":[320,700],"range":[416.3,691.3],"nice":false,"zero":false},
   "axis":{"orient":"bottom","offset":-163.3,"values":[325,375,425,475,525,575,625,675],"labels":false,"domain":false,"grid":false,"title":null,"ticks":true,"tickSize":3,"tickWidth":1,"tickColor":"#000"}},
  "y":{"field":"y","type":"quantitative","scale":{"domain":[0,1.7],"range":[397.7,108.7],"nice":false,"zero":false},
   "axis":{"orient":"left","offset":-416.3,"values":[0.1,0.3,0.5,0.7,0.9,1.1,1.3,1.5,1.7],"labels":false,"domain":false,"grid":false,"title":null,"ticks":true,"tickSize":3,"tickWidth":1,"tickColor":"#000"}},
  "text":{"field":"label","type":"nominal"}
 }},
{"data":{"values":[{"x":353.2,"y":0.585,"x2":377.5,"y2":0.62}]},
 "mark":{"type":"rule","color":"#000","strokeWidth":2},
 "encoding":{
  "x":{"field":"x","type":"quantitative","scale":{"domain":[320,700],"range":[416.3,691.3],"nice":false,"zero":false},"axis":null},"x2":{"field":"x2"},
  "y":{"field":"y","type":"quantitative","scale":{"domain":[0,1.7],"range":[397.7,108.7],"nice":false,"zero":false},"axis":null},"y2":{"field":"y2"}
 }},
{"data":{"values":[{"x":376.5,"y":0.619}]},
 "mark":{"type":"point","shape":"triangle-right","size":30,"angle":-20,"filled":true,"color":"#000","opacity":1,"strokeWidth":0},
 "encoding":{
  "x":{"field":"x","type":"quantitative","scale":{"domain":[320,700],"range":[416.3,691.3],"nice":false,"zero":false},"axis":null},
  "y":{"field":"y","type":"quantitative","scale":{"domain":[0,1.7],"range":[397.7,108.7],"nice":false,"zero":false},"axis":null}
 }},
{"data":{"values":[{"dir":"down","x":329.3,"from":0.702,"head":0.437},{"dir":"up","x":443,"from":0.134,"head":0.385}]},
 "mark":{"type":"rule","color":"#000","strokeWidth":1.5},
 "encoding":{
  "x":{"field":"x","type":"quantitative","scale":{"domain":[320,700],"range":[416.3,691.3],"nice":false,"zero":false},"axis":null},
  "y":{"field":"from","type":"quantitative","scale":{"domain":[0,1.7],"range":[397.7,108.7],"nice":false,"zero":false},"axis":null},
  "y2":{"field":"head"}
 }},
{"data":{"values":[{"dir":"down","x":329.3,"head":0.437},{"dir":"up","x":443,"head":0.385}]},
 "mark":{"type":"point","size":64,"filled":true,"color":"#000","opacity":1,"strokeWidth":0},
 "encoding":{
  "x":{"field":"x","type":"quantitative","scale":{"domain":[320,700],"range":[416.3,691.3],"nice":false,"zero":false},"axis":null},
  "y":{"field":"head","type":"quantitative","scale":{"domain":[0,1.7],"range":[397.7,108.7],"nice":false,"zero":false},"axis":null},
  "shape":{"field":"dir","type":"nominal","legend":null,"scale":{"domain":["down","up"],"range":["M-0.5,-1L0.5,-1L0,1Z","M-0.5,1L0.5,1L0,-1Z"]}}
 }}
],
"resolve":{"scale":{"x":"independent","y":"independent"}}
}
